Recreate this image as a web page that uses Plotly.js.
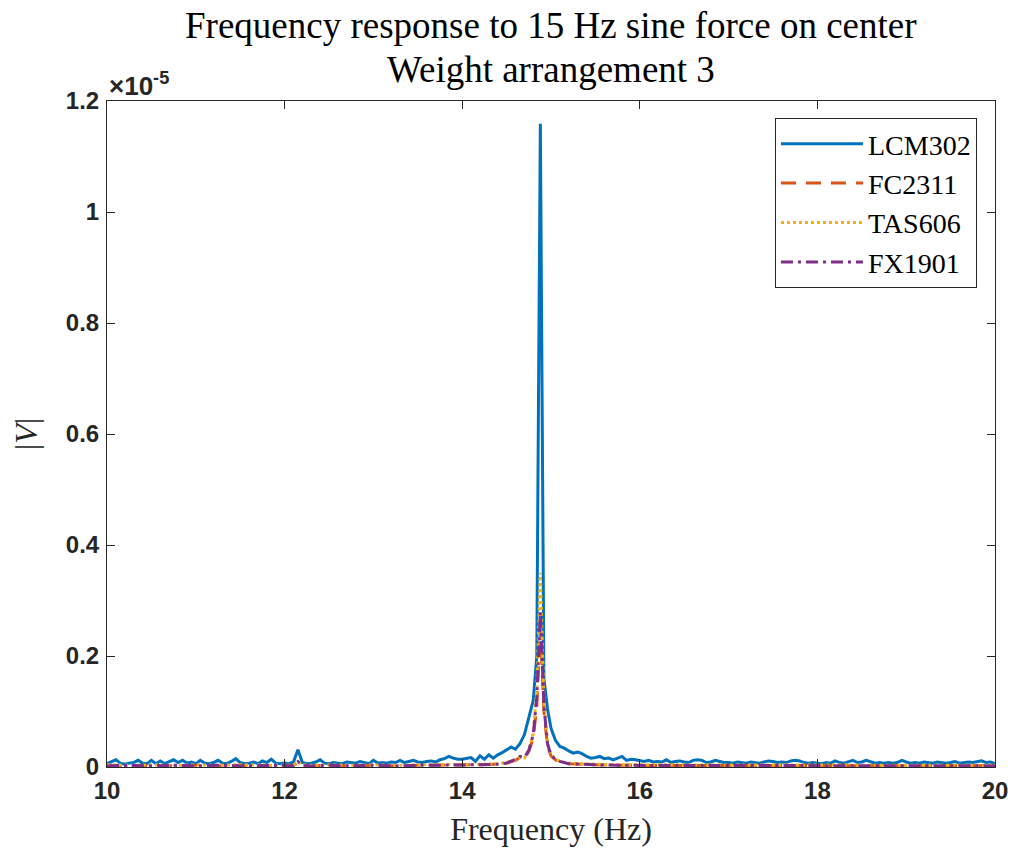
<!DOCTYPE html>
<html>
<head>
<meta charset="utf-8">
<script src="https://cdn.plot.ly/plotly-3.0.1.min.js"></script>
<style>html,body{margin:0;padding:0;background:#fff;}#chart{width:1015px;height:854px;}</style>
</head>
<body>
<div id="chart"></div>
<script>
// Frequency grid (Hz) for LCM302
const freqLCM = [
10.00,10.05,10.10,10.15,10.20,10.25,10.30,10.35,10.40,10.45,10.50,10.55,10.60,10.65,10.70,10.75,10.80,10.85,10.90,10.95,
11.00,11.05,11.10,11.15,11.20,11.25,11.30,11.35,11.40,11.45,11.50,11.55,11.60,11.65,11.70,11.75,11.80,11.85,11.90,11.95,
12.00,12.05,12.10,12.15,12.20,12.25,12.30,12.35,12.40,12.45,12.50,12.55,12.60,12.65,12.70,12.75,12.80,12.85,12.90,12.95,
13.00,13.05,13.10,13.15,13.20,13.25,13.30,13.35,13.40,13.45,13.50,13.55,13.60,13.65,13.70,13.75,13.80,13.85,13.90,13.95,
14.00,14.05,14.10,14.15,14.20,14.25,14.30,14.35,14.40,14.45,14.50,14.55,14.60,14.65,14.70,14.75,14.80,
14.84,14.88,14.92,14.96,15.00,
15.05,15.10,15.15,15.20,15.25,15.30,15.35,15.40,15.45,15.50,15.55,15.60,15.65,15.70,15.75,15.80,15.85,15.90,15.95,
16.00,16.05,16.10,16.15,16.20,16.25,16.30,16.35,16.40,16.45,16.50,16.55,16.60,16.65,16.70,16.75,16.80,16.85,16.90,16.95,
17.00,17.05,17.10,17.15,17.20,17.25,17.30,17.35,17.40,17.45,17.50,17.55,17.60,17.65,17.70,17.75,17.80,17.85,17.90,17.95,
18.00,18.05,18.10,18.15,18.20,18.25,18.30,18.35,18.40,18.45,18.50,18.55,18.60,18.65,18.70,18.75,18.80,18.85,18.90,18.95,
19.00,19.05,19.10,19.15,19.20,19.25,19.30,19.35,19.40,19.45,19.50,19.55,19.60,19.65,19.70,19.75,19.80,19.85,19.90,19.95,20.00
];
// |V| in units of 1e-5
const lcm302 = [
.006,.009,.013,.007,.005,.007,.008,.012,.007,.006,.012,.006,.011,.006,.009,.013,.008,.012,.007,.009,
.006,.012,.007,.006,.008,.012,.007,.006,.010,.015,.008,.006,.007,.009,.006,.011,.008,.014,.007,.006,
.007,.006,.009,.031,.008,.006,.007,.009,.013,.007,.006,.008,.007,.006,.009,.008,.007,.010,.008,.006,
.012,.007,.008,.007,.009,.008,.012,.008,.010,.012,.009,.008,.010,.011,.009,.013,.015,.019,.016,.014,
.014,.016,.017,.010,.020,.014,.022,.016,.022,.026,.031,.036,.032,.042,.058,.088,.120,
.200,1.159,.160,.105,.070,
.048,.037,.034,.029,.025,.027,.024,.019,.016,.017,.019,.015,.016,.013,.016,.019,.012,.014,.013,
.011,.010,.012,.009,.010,.009,.013,.008,.010,.011,.009,.008,.012,.013,.012,.008,.009,.012,.010,.008,
.008,.007,.009,.008,.007,.009,.008,.007,.009,.011,.010,.008,.009,.008,.011,.012,.011,.008,.007,.008,
.007,.006,.008,.007,.011,.008,.007,.009,.012,.008,.009,.012,.009,.007,.008,.007,.008,.007,.008,.012,
.009,.007,.008,.007,.009,.008,.007,.009,.008,.007,.008,.010,.007,.008,.009,.008,.010,.011,.008,.009,.006
];
// Frequency grid (Hz) for the other sensors
const freqOther = [
10.0,10.25,10.5,10.75,11.0,11.25,11.5,11.75,12.0,12.1,12.15,12.2,12.3,12.5,12.75,13.0,13.25,13.5,13.75,
14.0,14.2,14.4,14.5,14.6,14.65,14.7,14.75,14.8,14.84,14.88,14.92,14.96,
15.0,15.05,15.1,15.2,15.3,15.5,15.75,16.0,16.25,16.5,16.75,17.0,17.25,17.5,17.75,18.0,18.25,18.5,18.75,19.0,19.25,19.5,19.75,20.0
];
const fc2311 = [
.003,.002,.003,.002,.003,.002,.003,.002,.002,.003,.008,.003,.002,.003,.002,.003,.002,.003,.003,
.003,.004,.005,.007,.012,.017,.015,.028,.052,.110,.250,.100,.038,
.020,.013,.009,.006,.005,.004,.003,.003,.002,.003,.002,.003,.002,.002,.003,.002,.003,.002,.002,.003,.002,.002,.003,.002
];
const tas606 = [
.004,.003,.004,.003,.004,.003,.004,.003,.003,.004,.009,.004,.003,.004,.003,.004,.003,.004,.004,
.004,.005,.006,.008,.013,.018,.016,.030,.060,.140,.350,.120,.045,
.022,.015,.010,.007,.006,.005,.004,.004,.003,.004,.003,.004,.003,.003,.004,.003,.004,.003,.003,.004,.003,.003,.004,.003
];
const fx1901 = [
.002,.003,.002,.003,.002,.003,.002,.003,.003,.002,.010,.003,.002,.003,.002,.003,.002,.003,.003,
.003,.004,.005,.007,.014,.019,.017,.030,.058,.125,.280,.110,.042,
.021,.014,.010,.006,.005,.004,.003,.003,.002,.003,.002,.003,.002,.002,.003,.002,.003,.002,.002,.003,.002,.002,.003,.002
];
const seriesNames = ['LCM302','FC2311','TAS606','FX1901'];
const seriesColors = ['#0072BD','#D95319','#EDB120','#7E2F8E'];
const xTicks = [10,12,14,16,18,20];
const yTicks = [0,0.2,0.4,0.6,0.8,1,1.2];
const yTickText = ['0','0.2','0.4','0.6','0.8','1','1.2'];
const titleLines = ['Frequency response to 15 Hz sine force on center','Weight arrangement 3'];

const serif = 'Liberation Serif, Times New Roman, serif';
const sans = 'Liberation Sans, Arial, sans-serif';

const traces = [
  {x: freqLCM, y: lcm302, name: seriesNames[0], mode:'lines', line:{color:seriesColors[0], width:3}},
  {x: freqOther, y: fc2311, name: seriesNames[1], mode:'lines', line:{color:seriesColors[1], width:3, dash:'15px,10px'}},
  {x: freqOther, y: tas606, name: seriesNames[2], mode:'lines', line:{color:seriesColors[2], width:3, dash:'3px,3px'}},
  {x: freqOther, y: fx1901, name: seriesNames[3], mode:'lines', line:{color:seriesColors[3], width:3, dash:'12px,5px,3px,5px'}}
];

const axisCommon = {
  showline:true, mirror:'ticks', linecolor:'#262626', linewidth:1,
  ticks:'inside', ticklen:8, tickcolor:'#262626', tickwidth:1,
  showgrid:false, zeroline:false,
  tickfont:{family:sans, size:24, color:'#262626', weight:'bold'}
};

const layout = {
  width:1015, height:854,
  margin:{l:107, r:20, t:101, b:87},
  paper_bgcolor:'#ffffff', plot_bgcolor:'#ffffff',
  showlegend:true,
  xaxis: Object.assign({}, axisCommon, {
    range:[10,20], tickvals:xTicks, ticklabelstandoff:2,
    title:{text:'Frequency (Hz)', font:{family:serif, size:32, color:'#262626'}, standoff:14}
  }),
  yaxis: Object.assign({}, axisCommon, {
    range:[0,1.2], tickvals:yTicks, ticktext:yTickText, ticklabelstandoff:2,
    title:{text:'|<i>V</i>|', font:{family:serif, size:32, color:'#262626'}, standoff:18}
  }),
  legend:{
    x:0.9797, xanchor:'right', y:0.9745, yanchor:'top',
    bgcolor:'#ffffff', bordercolor:'#262626', borderwidth:1,
    itemwidth:82,
    font:{family:serif, size:28, color:'#000'}
  },
  annotations:[
    {xref:'paper', yref:'paper', x:0, y:1, xanchor:'left', yanchor:'bottom',
     text:'<b>×10<sup>-5</sup></b>', showarrow:false,
     font:{family:sans, size:26, color:'#262626'}, yshift:-2},
    {xref:'paper', yref:'paper', x:0.5, y:1, xanchor:'center', yanchor:'bottom',
     text:titleLines[0], showarrow:false, yshift:53,
     font:{family:serif, size:37, color:'#000'}},
    {xref:'paper', yref:'paper', x:0.5, y:1, xanchor:'center', yanchor:'bottom',
     text:titleLines[1], showarrow:false, yshift:9,
     font:{family:serif, size:37, color:'#000'}}
  ]
};

Plotly.newPlot('chart', traces, layout, {displayModeBar:false, staticPlot:true});
</script>
</body>
</html>
